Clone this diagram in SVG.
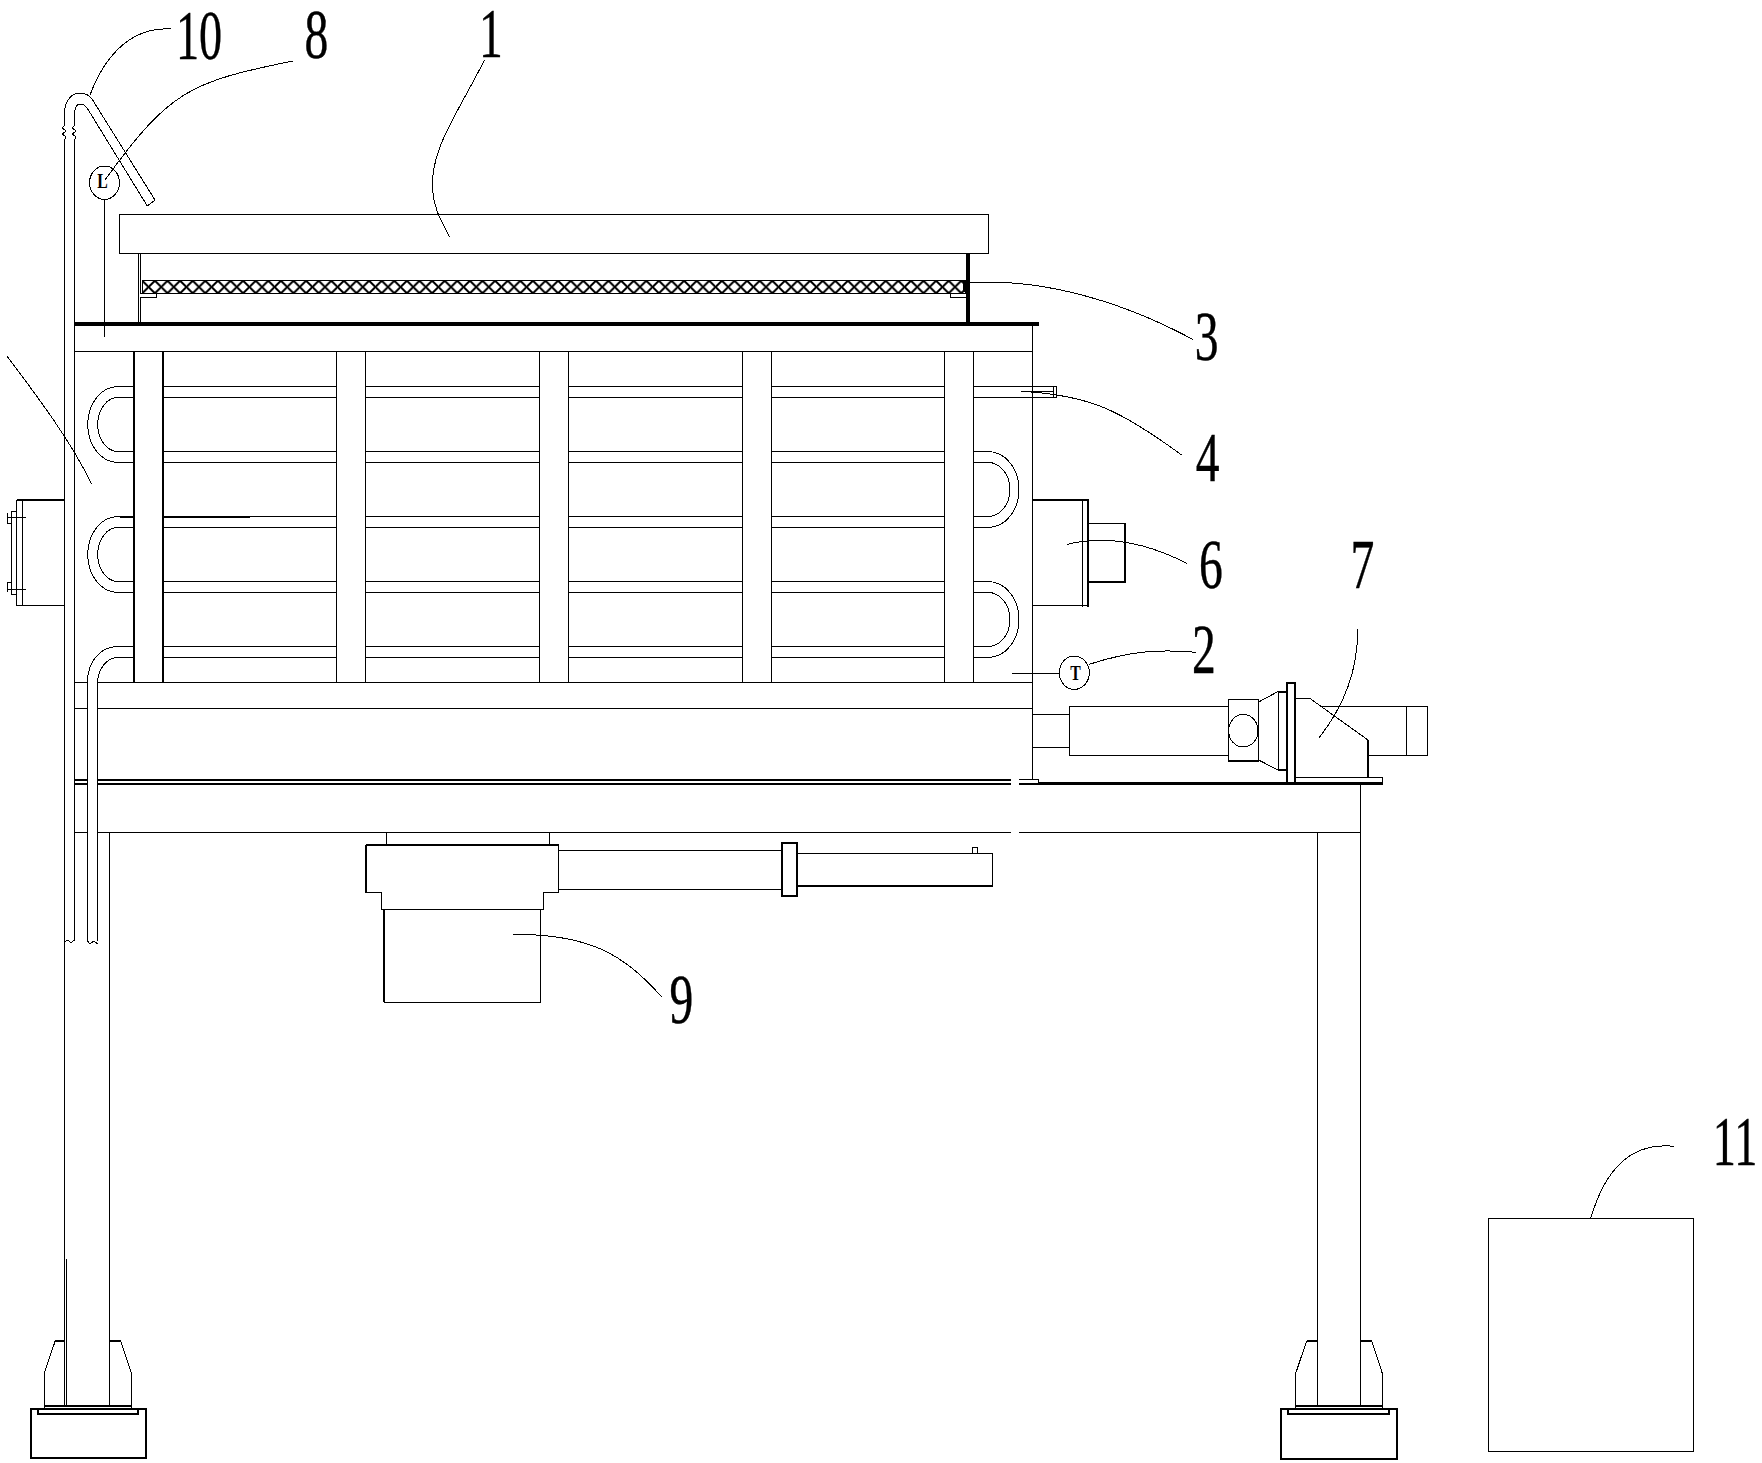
<svg xmlns="http://www.w3.org/2000/svg" width="1762" height="1463" viewBox="0 0 1762 1463">
<style>
path,rect,ellipse{fill:none;stroke:#000;stroke-width:1;shape-rendering:crispEdges}
.w{fill:#fff}
.t2{stroke-width:2}
.t3{stroke-width:3.4}
.lead{stroke-width:1}
text{font-family:"Liberation Serif",serif;fill:#000;stroke:#000;stroke-width:.45}
.n{font-size:70px;text-anchor:middle}
.s{font-size:21px;font-weight:bold;text-anchor:middle;stroke:none}
</style>
<defs>
<pattern id="mesh" patternUnits="userSpaceOnUse" x="142.3" y="280.7" width="12.6" height="12.6">
<path d="M0 0L12.6 12.6M12.6 0L0 12.6" style="stroke-width:1.6"/>
</pattern>
</defs>
<rect width="1762" height="1463" style="fill:#fff;stroke:none"/>
<g id="tubes">
<path d="M163 386.5H1056.7M163 397.5H1056.7M1053.5 386V398M1056.7 386V398M1020.7 391.5H1053"/>
<path d="M163 451.5H973M163 462.5H973M163 516.5H973M163 527.5H973M163 581.5H973M163 592.5H973M163 646.5H973M163 657.5H973"/>
<path class="t2" d="M120 516.5H134M163 516.5H250"/>
<path d="M134 386.5H118A30.3 38 0 0 0 118 462.5H134M134 397.5H118A20.3 27 0 0 0 118 451.5H134"/>
<path d="M134 516.5H118A30.3 38 0 0 0 118 592.5H134M134 527.5H118A20.3 27 0 0 0 118 581.5H134"/>
<path d="M973 451.5H988A31 38 0 0 1 988 527.5H973M973 462.5H988A22 27 0 0 1 988 516.5H973"/>
<path d="M973 581.5H988A31 38 0 0 1 988 657.5H973M973 592.5H988A22 27 0 0 1 988 646.5H973"/>
<path d="M134 646.5H118C100 646.5 87.5 662 87.5 682V941M134 657.5H118C107 657.5 98.5 668 97.5 682V941"/>
<path d="M87.5 941L90 944L94 941L97.7 944"/>
</g>
<g id="casing">
<rect class="w" x="336.5" y="351" width="29" height="331.5"/>
<rect class="w" x="539.5" y="351" width="29" height="331.5"/>
<rect class="w" x="742.5" y="351" width="29" height="331.5"/>
<rect class="w" x="944.5" y="351" width="29" height="331.5"/>
<rect class="w" x="134" y="351" width="29" height="331.5"/>
<path class="t2" d="M134 351V682.5M163 351V682.5"/>
<path d="M74.5 351.5H1032.5M1032.5 324V780M74.5 682.5H87.5M97.5 682.5H1032.5M74.5 708.5H87.5M97.5 708.5H1032.5"/>
<path class="t3" d="M74 324H1038.7"/>
</g>
<g id="part-1-cover">
<rect x="119.5" y="214.5" width="868.5" height="39"/>
<path d="M138.5 253V324M140.8 253V293M140.8 298V324"/>
<rect x="142.3" y="280.7" width="822.7" height="12.6" style="fill:url(#mesh)"/>
<path d="M140 293.5H142M140 297.7H156.7V293.3M950.3 293.3V297.5H968"/>
<path class="t3" d="M968 253V324"/>
<path class="t3" d="M964.5 281V292"/>
</g>
<g id="part-10-pipe">
<path d="M64.5 125V113C64.5 102 71 93 80 93C85 93 89 95 92 99L155 200L147.3 206L87.3 108.3C85 105 82 104 80 104C76 104 74.5 109 74.5 116V125"/>
<path d="M64.5 125L62.5 128L66 131L62.5 134L66 137L64.5 140V1405.7M74.5 125L72.5 128L76 131L72.5 134L76 137L74.5 140V941"/>
<path d="M64.5 942L68 940L71 943L74.5 940"/>
</g>
<g id="part-8-level">
<ellipse cx="104.5" cy="182.7" rx="15" ry="16.7"/>
<path d="M104.5 199.5V337"/>
<text class="s" transform="translate(102.6 188) scale(.75 1)">L</text>
</g>
<g id="inlet-flange">
<path class="t2" d="M16.7 500H64.3"/>
<path d="M64.3 605.5H16.7V500M22.7 500V605.3M17 511.7H11.7V594.3H17M7.3 517H25.7M7.3 589H25.7M7.3 523H11.7M7.3 582H11.7M7.3 513V523M7.3 582V592"/>
</g>
<g id="part-6-flange">
<path d="M1032.5 500H1086M1082.7 500V607M1032.5 605.5H1088"/>
<path class="t2" d="M1032.5 500H1088.3V607"/>
<path d="M1088.3 523.5H1125V581.7H1088.3"/>
<path class="t2" d="M1125 523.3V581.7H1088.3"/>
</g>
<g id="part-2-sensor">
<ellipse cx="1074.3" cy="672.7" rx="15" ry="16.7"/>
<path d="M1012.3 673.5H1059.3"/>
<text class="s" transform="translate(1075.5 680) scale(.75 1)">T</text>
</g>
<g id="part-7-motor">
<path d="M1032.5 714.5H1069.3M1032.5 747.5H1069.3"/>
<rect class="w" x="1069.5" y="706.5" width="159" height="49"/>
<path d="M1320 706.5H1427.5V755.5H1368M1406.5 706.5V755.5"/>
<rect class="w" x="1228.5" y="699.5" width="30" height="61.5"/>
<path class="t2" d="M1228.3 761H1258.7"/>
<ellipse cx="1243.3" cy="730.7" rx="14.7" ry="16.3"/>
<path d="M1258.7 702L1277.7 691.7M1258.7 760L1277.7 770M1278 691.7V770"/>
<path class="t2" d="M1277.7 691.7H1286.7M1277.7 770H1286.7"/>
<rect class="t2" x="1286.7" y="682.7" width="8.6" height="101"/>
<path d="M1295.3 698.5H1310L1368 740"/>
<path class="t2" d="M1368 740V777.3"/>
<path d="M1295.3 777.5H1382.5V783.5"/>
</g>
<g id="frame">
<path class="t2" d="M74.3 780H87.5M97.7 780H1010.7M74.3 784H87.5M97.7 784H1010.7M1019 784H1038.7"/>
<path class="t3" d="M1038.7 783.7H1382.7"/>
<path d="M1019 779.5H1038.5V783"/>
<path d="M74.5 832.5H87.5M97.5 832.5H1010.7M1019 832.5H1360.5M1360.5 783V1405.7M1317.5 832.3V1405.7M109.5 832.3V1405.7M66.5 1259V1405.7"/>
</g>
<g id="foot-left">
<path class="t2" d="M55.3 1340.7H64.3M109.3 1340.7H120.7M44.3 1405.5H131.3"/>
<path d="M55.3 1340.7L44.3 1372.7V1409.3M120.7 1340.7L131.3 1372.7V1409.3"/>
<rect class="t2" x="30.5" y="1409.3" width="115" height="49"/>
<path class="t2" d="M37.7 1409.3V1414H138.3V1409.3"/>
</g>
<g id="foot-right">
<path class="t2" d="M1306.7 1340.7H1317.5M1360.3 1340.7H1371.7M1295.7 1405.5H1382.3"/>
<path d="M1306.7 1340.7L1295.7 1373.3V1409.3M1371.7 1340.7L1382.3 1373.3V1409.3"/>
<rect class="t2" x="1280.7" y="1409.3" width="116.6" height="49.4"/>
<path class="t2" d="M1288.3 1409.3V1414H1389.3V1409.3"/>
</g>
<g id="part-9-pump">
<path d="M386.5 832.3V844.7M549.5 832.3V844.7"/>
<path d="M365.9 844.7V892.5H381V909.5H543.5V892.5H558.8V844.7"/>
<path class="t2" d="M365.9 844.7H558.8M365.9 844.7V892"/>
<path class="t2" d="M383.8 909.3V1002.3"/>
<path d="M383.8 1002.5H540.5V909.3"/>
<path d="M558.8 850.5H782.4M558.8 889.5H782.4"/>
<rect class="t2" x="782.4" y="843.3" width="14.3" height="52.4"/>
<path d="M796.7 853.5H992.5V886"/>
<path class="t2" d="M796.7 886H992.7"/>
<rect x="972.5" y="847.5" width="5" height="6"/>
</g>
<g id="part-11-box">
<rect x="1488.5" y="1218.5" width="205" height="233"/>
</g>
<g id="connectors">
<path class="lead" d="M171 29C135 27 107 50 90 95"/>
<path class="lead" d="M292.8 61C190 82 170 90 105 180"/>
<path class="lead" d="M484.5 60C455 118 430 150 432.5 190C434 210 442 222 449.7 237"/>
<path class="lead" d="M7 356C40 400 70 440 91.7 484"/>
<path class="lead" d="M968.3 283C1030 278 1110 295 1192.7 339.3"/>
<path class="lead" d="M1020.7 391.3C1090 395 1120 410 1181.7 455"/>
<path class="lead" d="M1067.3 544.3C1105 535 1145 542 1186.7 563.3"/>
<path class="lead" d="M1089.3 664.3C1130 651 1160 649 1196 652.3"/>
<path class="lead" d="M1357.7 629.3C1358 670 1345 705 1318.7 738.3"/>
<path class="lead" d="M513.2 934.3C590 934 625 955 661.4 996.7"/>
<path class="lead" d="M1590.7 1218.3C1605 1170 1630 1142 1674 1146.3"/>
</g>
<g id="labels">
<text class="n" transform="translate(199 59) scale(.66 1)">10</text>
<text class="n" transform="translate(316.5 58) scale(.68 1)">8</text>
<text class="n" transform="translate(491 57) scale(.68 1)">1</text>
<text class="n" transform="translate(1206.7 360) scale(.68 1)">3</text>
<text class="n" transform="translate(1207.7 481) scale(.68 1)">4</text>
<text class="n" transform="translate(1211 587.7) scale(.68 1)">6</text>
<text class="n" transform="translate(1204 672.7) scale(.68 1)">2</text>
<text class="n" transform="translate(1362.5 588) scale(.68 1)">7</text>
<text class="n" transform="translate(681.5 1023) scale(.68 1)">9</text>
<text class="n" transform="translate(1735 1165) scale(.66 1)">11</text>
</g>
</svg>
